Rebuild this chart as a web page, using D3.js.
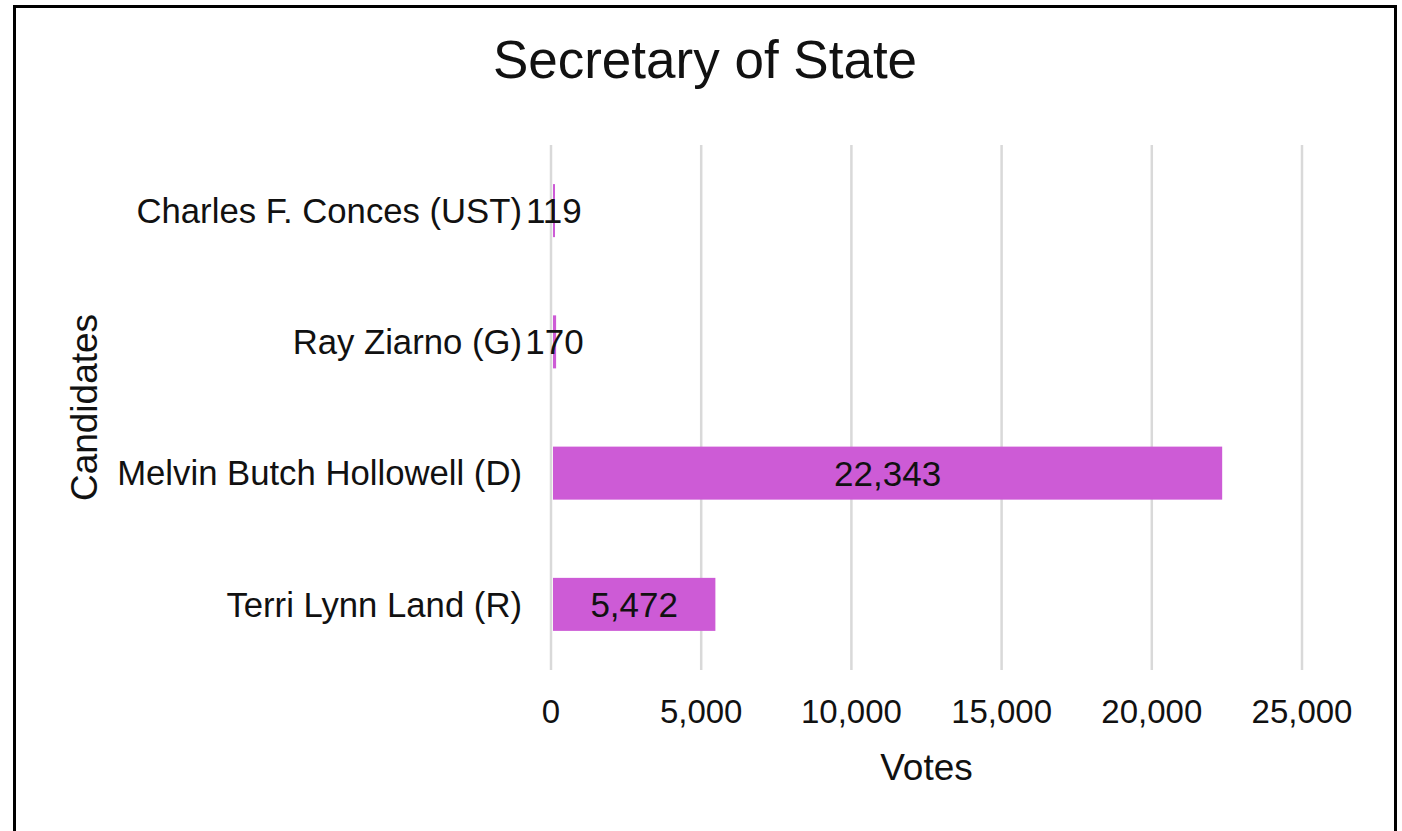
<!DOCTYPE html>
<html>
<head>
<meta charset="utf-8">
<script src="https://cdn.jsdelivr.net/npm/d3@7"></script>
<style>
  body { margin: 0; background: #fff; }
  text { font-family: "Liberation Sans", Arial, sans-serif; fill: #111; }
</style>
</head>
<body>
<div id="chart"></div>
<script>
// data, top to bottom as drawn
var candidates = ["Charles F. Conces (UST)", "Ray Ziarno (G)", "Melvin Butch Hollowell (D)", "Terri Lynn Land (R)"];
var votes = [119, 170, 22343, 5472];
var xTicks = [0, 5000, 10000, 15000, 20000, 25000];

var W = 1402, H = 831;
var plot = {left: 551, right: 1302, top: 145, bottom: 670};

var svg = d3.select("#chart").append("svg")
    .attr("width", W)
    .attr("height", H);

// outer frame
svg.append("rect")
    .attr("x", 14.5).attr("y", 6.5)
    .attr("width", 1381).attr("height", 840)
    .attr("fill", "#fff")
    .attr("stroke", "#000")
    .attr("stroke-width", 3);

var x = d3.scaleLinear().domain([0, 25000]).range([plot.left, plot.right]);
var y = d3.scaleBand().domain(candidates).range([plot.top, plot.bottom])
    .paddingInner(0.596).paddingOuter(0.298);

// gridlines
svg.append("g").selectAll("line")
    .data(xTicks)
    .enter().append("line")
    .attr("x1", function(d) { return x(d); })
    .attr("x2", function(d) { return x(d); })
    .attr("y1", plot.top)
    .attr("y2", plot.bottom)
    .attr("stroke", "#d9d9d9")
    .attr("stroke-width", 2.5);

// x tick labels
var fmt = d3.format(",");
svg.append("g").selectAll("text")
    .data(xTicks)
    .enter().append("text")
    .attr("x", function(d) { return x(d); })
    .attr("y", 723)
    .attr("text-anchor", "middle")
    .style("font-size", "33px")
    .text(function(d) { return fmt(d); });

// bars
var rows = candidates.map(function(c, i) { return {name: c, value: votes[i]}; });
svg.append("g").selectAll("rect")
    .data(rows)
    .enter().append("rect")
    .attr("x", x(0) + 2)
    .attr("y", function(d) { return y(d.name); })
    .attr("width", function(d) { return Math.max(2, x(d.value) - x(0) - 2); })
    .attr("height", y.bandwidth())
    .attr("fill", "#cd5bd6");

// category labels
svg.append("g").selectAll("text")
    .data(rows)
    .enter().append("text")
    .attr("x", 522)
    .attr("y", function(d) { return y(d.name) + y.bandwidth() / 2; })
    .attr("dy", "0.35em")
    .attr("text-anchor", "end")
    .style("font-size", "34.7px")
    .text(function(d) { return d.name; });

// data labels centred on bars
svg.append("g").selectAll("text")
    .data(rows)
    .enter().append("text")
    .attr("x", function(d) { return (x(0) + 2 + x(d.value)) / 2; })
    .attr("y", function(d) { return y(d.name) + y.bandwidth() / 2; })
    .attr("dy", "0.36em")
    .attr("text-anchor", "middle")
    .style("font-size", "35px")
    .text(function(d) { return fmt(d.value); });

// titles
svg.append("text")
    .attr("x", 705).attr("y", 78)
    .attr("text-anchor", "middle")
    .style("font-size", "53px")
    .text("Secretary of State");

svg.append("text")
    .attr("x", (plot.left + plot.right) / 2).attr("y", 780)
    .attr("text-anchor", "middle")
    .style("font-size", "37px")
    .text("Votes");

svg.append("text")
    .attr("transform", "translate(97," + ((plot.top + plot.bottom) / 2) + ") rotate(-90)")
    .attr("text-anchor", "middle")
    .style("font-size", "37px")
    .text("Candidates");
</script>
</body>
</html>
